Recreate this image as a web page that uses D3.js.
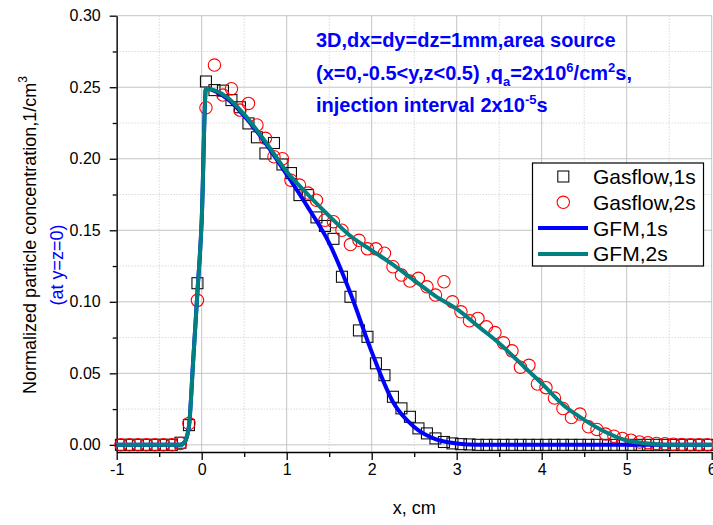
<!DOCTYPE html>
<html>
<head>
<meta charset="utf-8">
<script src="https://cdn.jsdelivr.net/npm/d3@7"></script>
<style>
body{margin:0;background:#fff;}
svg{display:block;font-family:Arial,"Liberation Sans",sans-serif;}
</style>
</head>
<body>
<div id="chart"></div>
<script>
// Gasflow samples, cell centres (cm)
var gasX = [-0.95,-0.85,-0.75,-0.65,-0.55,-0.45,-0.35,-0.25,-0.15,-0.05,
    0.05,0.15,0.25,0.35,0.45,0.55,0.65,0.75,0.85,0.95,
    1.05,1.15,1.25,1.35,1.45,1.55,1.65,1.75,1.85,1.95,
    2.05,2.15,2.25,2.35,2.45,2.55,2.65,2.75,2.85,2.95,
    3.05,3.15,3.25,3.35,3.45,3.55,3.65,3.75,3.85,3.95,
    4.05,4.15,4.25,4.35,4.45,4.55,4.65,4.75,4.85,4.95,
    5.05,5.15,5.25,5.35,5.45,5.55,5.65,5.75,5.85,5.95];

var gasflow1s = [0,0,0,0,0,0,0,0.0015,0.0138,0.113,
    0.254,0.248,0.2476,0.241,0.236,0.2247,0.215,0.2037,0.211,0.196,
    0.190,0.1746,0.1746,0.159,0.153,0.144,0.1175,0.1035,0.080,0.0755,
    0.057,0.0487,0.0336,0.0255,0.0196,0.0115,0.008,0.0045,0.002,0.001,
    0.0005,0.0003,0,0,0,0,0,0,0,0,
    0,0,0,0,0,0,0,0,0,0,
    0,0,0,0,0,0,0,0,0,0];

var gasflow2s = [0,0,0,0,0,0,0,0.001,0.015,0.101,
    0.2357,0.2655,0.2445,0.249,0.234,0.2387,0.2236,0.2143,0.2014,0.200,
    0.185,0.1816,0.176,0.171,0.157,0.156,0.150,0.140,0.143,0.137,
    0.137,0.134,0.1245,0.1187,0.1145,0.1164,0.1105,0.1047,0.114,0.100,
    0.093,0.0867,0.0884,0.0825,0.0785,0.0713,0.0657,0.0543,0.0556,0.0425,
    0.040,0.0327,0.0254,0.0191,0.0215,0.0126,0.0108,0.0075,0.006,0.0045,
    0.0033,0.002,0.0015,0.001,0.0008,0.0005,0.0003,0,0,0];

// GFM curves
var gfm1X = [-1,-0.25,-0.2,-0.15,-0.1,-0.05,0,0.05,0.3,0.5,0.75,1.0,1.25,1.5,1.75,2.0,2.25,2.5,2.75,3.0,3.25,3.5,6];
var gfm1s = [0,0,0.002,0.013,0.059,0.107,0.157,0.249,0.242,0.230,0.211,0.189,0.166,0.141,0.106,0.065,0.030,0.0125,0.004,0.001,0,0,0];

var gfm2X = [-1,-0.25,-0.2,-0.15,-0.1,-0.05,0,0.05,0.3,0.5,0.75,1.0,1.25,1.5,1.75,2.0,2.25,2.5,2.75,3.0,3.25,3.5,3.75,4.0,4.25,4.5,4.75,5.0,5.25,5.5,6];
var gfm2s = [0,0,0.002,0.013,0.059,0.107,0.157,0.249,0.243,0.231,0.212,0.191,0.175,0.160,0.146,0.136,0.126,0.115,0.104,0.095,0.083,0.071,0.057,0.043,0.028,0.0175,0.009,0.003,0.001,0,0];

var xTicks = [-1,0,1,2,3,4,5,6];
var xMinor = [-0.5,0.5,1.5,2.5,3.5,4.5,5.5];
var yTicks = [0,0.05,0.10,0.15,0.20,0.25,0.30];
var yMinor = [0.025,0.075,0.125,0.175,0.225,0.275];
var legendNames = ["Gasflow,1s","Gasflow,2s","GFM,1s","GFM,2s"];

var width = 713,
    height = 525,
    pLeft = 116.7, pRight = 711.7, pTop = 15.7, pBottom = 452;

var svg = d3.select("#chart").append("svg")
    .attr("width", width)
    .attr("height", height);

var x = d3.scaleLinear().domain([-1,6]).range([pLeft,pRight]);
var y = d3.scaleLinear().domain([-0.005,0.30]).range([pBottom,pTop]);

// grid
svg.selectAll(".gxm").data(xMinor).enter().append("line")
    .attr("x1",function(d){return x(d);}).attr("x2",function(d){return x(d);})
    .attr("y1",pTop).attr("y2",pBottom)
    .attr("stroke","#c8c8c8").attr("stroke-dasharray","1,2");
svg.selectAll(".gym").data(yMinor).enter().append("line")
    .attr("x1",pLeft).attr("x2",pRight)
    .attr("y1",function(d){return y(d);}).attr("y2",function(d){return y(d);})
    .attr("stroke","#c8c8c8").attr("stroke-dasharray","1,2");
svg.selectAll(".gx").data(xTicks).enter().append("line")
    .attr("x1",function(d){return x(d);}).attr("x2",function(d){return x(d);})
    .attr("y1",pTop).attr("y2",pBottom)
    .attr("stroke","#c4c4c4");
svg.selectAll(".gy").data(yTicks).enter().append("line")
    .attr("x1",pLeft).attr("x2",pRight)
    .attr("y1",function(d){return y(d);}).attr("y2",function(d){return y(d);})
    .attr("stroke","#c4c4c4");

// axes
var xAxis = svg.append("g")
    .attr("transform","translate(0,"+pBottom+")")
    .call(d3.axisBottom(x).tickValues(xTicks).tickSize(8).tickSizeOuter(0)
        .tickFormat(function(d){return String(d);}));
svg.append("g")
    .attr("transform","translate(0,"+pBottom+")")
    .call(d3.axisBottom(x).tickValues(xMinor).tickSize(5).tickFormat(""))
    .select(".domain").remove();
var yAxis = svg.append("g")
    .attr("transform","translate("+pLeft+",0)")
    .call(d3.axisLeft(y).tickValues(yTicks).tickSize(7).tickSizeOuter(0)
        .tickFormat(d3.format(".2f")));
svg.append("g")
    .attr("transform","translate("+pLeft+",0)")
    .call(d3.axisLeft(y).tickValues(yMinor).tickSize(4).tickFormat(""))
    .select(".domain").remove();

svg.selectAll(".tick line").attr("stroke","#000").attr("stroke-width",1.3);
svg.selectAll(".domain").attr("stroke","#000").attr("stroke-width",1.3);
xAxis.selectAll("text").attr("font-size",16).attr("font-family","Arial,'Liberation Sans',sans-serif")
    .attr("fill","#000").attr("y",12);
yAxis.selectAll("text").attr("font-size",16).attr("font-family","Arial,'Liberation Sans',sans-serif")
    .attr("fill","#000").attr("x",-16);

// Gasflow markers
var sq = 11;
svg.append("g").selectAll("rect").data(gasX).enter().append("rect")
    .attr("x",function(d){return x(d)-sq/2;})
    .attr("y",function(d,i){return y(gasflow1s[i])-sq/2;})
    .attr("width",sq).attr("height",sq)
    .attr("fill","none").attr("stroke","#111").attr("stroke-width",1.1);
svg.append("g").selectAll("circle").data(gasX).enter().append("circle")
    .attr("cx",function(d){return x(d);})
    .attr("cy",function(d,i){return y(gasflow2s[i]);})
    .attr("r",6.2)
    .attr("fill","none").attr("stroke","#ff0000").attr("stroke-width",1.1);

// GFM lines
var line = d3.line()
    .x(function(d){return x(d[0]);})
    .y(function(d){return y(d[1]);})
    .curve(d3.curveMonotoneX);
svg.append("path")
    .datum(d3.zip(gfm1X,gfm1s))
    .attr("d",line).attr("fill","none")
    .attr("stroke","#0000ff").attr("stroke-width",4);
svg.append("path")
    .datum(d3.zip(gfm2X,gfm2s))
    .attr("d",line).attr("fill","none")
    .attr("stroke","#008080").attr("stroke-width",4);

// annotation
var note = svg.append("g")
    .attr("fill","#0000ff")
    .attr("font-weight","bold")
    .attr("font-size",20);
note.append("text").attr("x",316).attr("y",47).text("3D,dx=dy=dz=1mm,area source");
var t2 = note.append("text").attr("x",316).attr("y",79.5);
t2.append("tspan").text("(x=0,-0.5<y,z<0.5) ,q");
t2.append("tspan").attr("font-size",13).attr("dy",6).text("a");
t2.append("tspan").attr("dy",-6).text("=2x10");
t2.append("tspan").attr("font-size",13).attr("dy",-8).text("6");
t2.append("tspan").attr("dy",8).text("/cm");
t2.append("tspan").attr("font-size",13).attr("dy",-8).text("2");
t2.append("tspan").attr("dy",8).text("s,");
var t3 = note.append("text").attr("x",316).attr("y",112);
t3.append("tspan").text("injection interval 2x10");
t3.append("tspan").attr("font-size",13).attr("dy",-8).text("-5");
t3.append("tspan").attr("dy",8).text("s");

// axis titles
svg.append("text")
    .attr("x",(pLeft+pRight)/2).attr("y",514)
    .attr("text-anchor","middle")
    .attr("font-size",18)
    .text("x, cm");
var yl = svg.append("text")
    .attr("transform","translate(36,235) rotate(-90)")
    .attr("text-anchor","middle")
    .attr("font-size",18);
yl.append("tspan").text("Normalized particle concentration,1/cm");
yl.append("tspan").attr("font-size",12).attr("dy",-9).text("3");
svg.append("text")
    .attr("transform","translate(63,265) rotate(-90)")
    .attr("text-anchor","middle")
    .attr("font-size",18)
    .attr("fill","#0000ff")
    .text("(at y=z=0)");

// Legend
var legend = svg.append("g");
legend.append("rect")
    .attr("x",532.5).attr("y",163).attr("width",171).attr("height",103)
    .attr("fill","#fff").attr("stroke","#000").attr("stroke-width",1.2);
var rows = legend.selectAll(".row").data(legendNames).enter().append("g")
    .attr("transform",function(d,i){return "translate(0,"+(176.5+i*25.8)+")";});
rows.append("text")
    .attr("x",593).attr("y",7.5)
    .attr("font-size",21)
    .text(function(d){return d;});
legend.append("rect")
    .attr("x",563.3-sq/2).attr("y",176.5-sq/2).attr("width",sq).attr("height",sq)
    .attr("fill","none").attr("stroke","#111").attr("stroke-width",1.1);
legend.append("circle")
    .attr("cx",563.3).attr("cy",176.5+25.8).attr("r",6.2)
    .attr("fill","none").attr("stroke","#ff0000").attr("stroke-width",1.1);
legend.append("line")
    .attr("x1",538).attr("x2",588).attr("y1",176.5+2*25.8).attr("y2",176.5+2*25.8)
    .attr("stroke","#0000ff").attr("stroke-width",4);
legend.append("line")
    .attr("x1",538).attr("x2",588).attr("y1",176.5+3*25.8).attr("y2",176.5+3*25.8)
    .attr("stroke","#008080").attr("stroke-width",4);
</script>
</body>
</html>
